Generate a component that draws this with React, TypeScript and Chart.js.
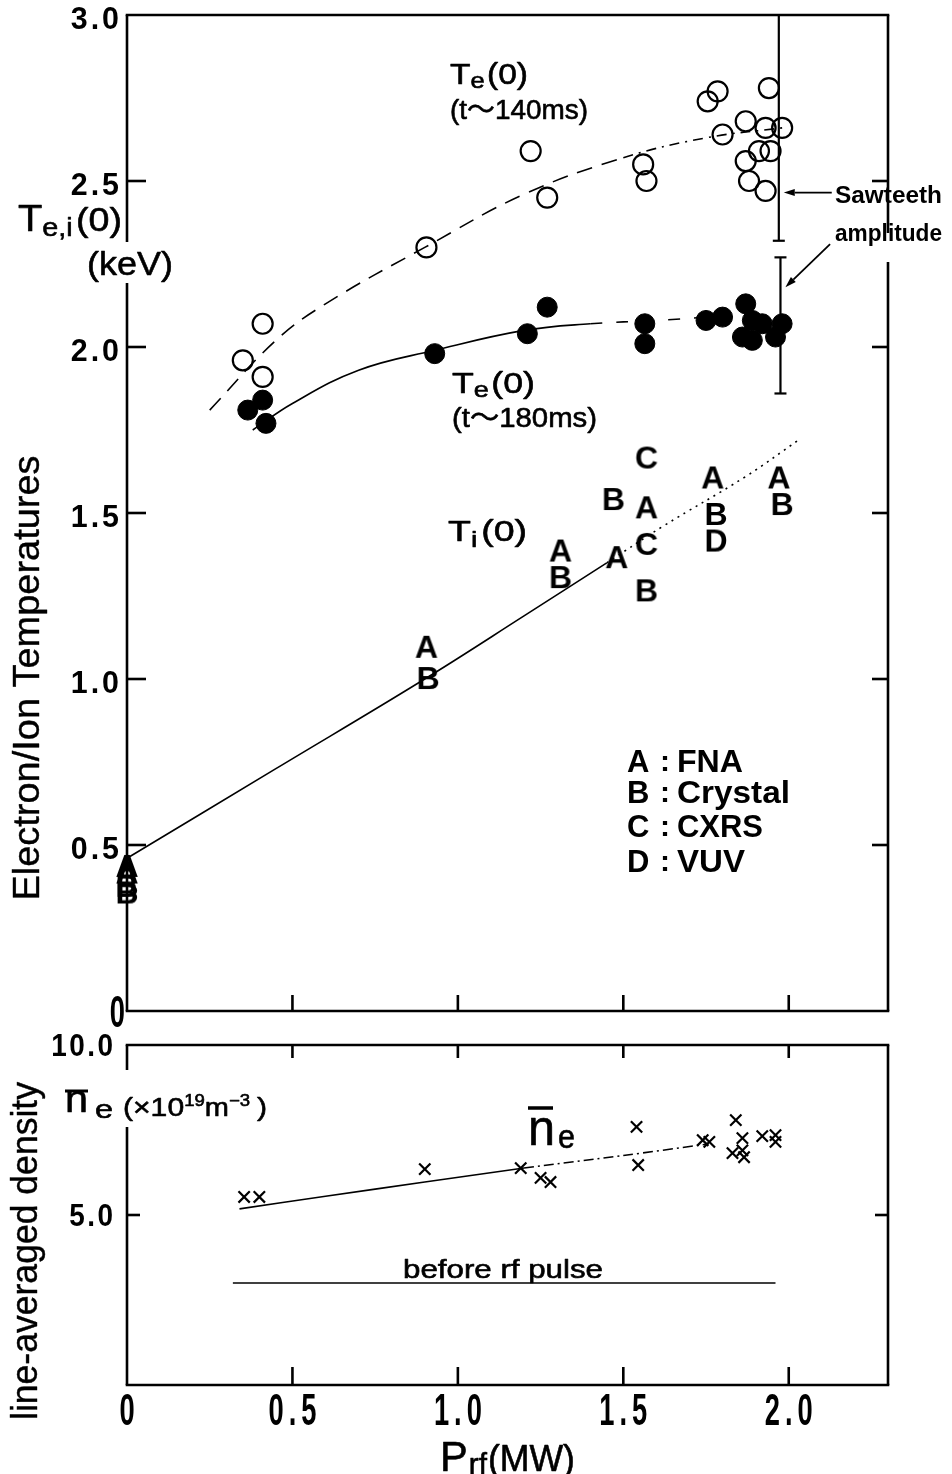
import React, { useEffect, useRef } from 'react';
import { Chart, registerables } from 'chart.js';
Chart.register(...registerables);

// ---------------- data ----------------
const xAxisMin = 0;
const xAxisMax = 2.3;
const xTickValues = [0, 0.5, 1.0, 1.5, 2.0];
const xTickLabels = ['0', '0.5', '1.0', '1.5', '2.0'];
const tempAxisMax = 3.0;
const tempTickValues = [0, 0.5, 1.0, 1.5, 2.0, 2.5, 3.0];
const tempTickLabels = ['0', '0.5', '1.0', '1.5', '2.0', '2.5', '3.0'];
const densAxisMax = 10;
const densTickValues = [5, 10];
const densTickLabels = ['5.0', '10.0'];

// Te(0) at t~140ms (open circles)
const te140P = [0.35, 0.41, 0.41, 0.905, 1.22, 1.27, 1.56, 1.57, 1.755, 1.785, 1.94, 1.87, 1.80, 1.93, 1.98, 1.91, 1.945, 1.87, 1.88, 1.93];
const te140T = [1.96, 2.07, 1.91, 2.30, 2.59, 2.45, 2.55, 2.50, 2.74, 2.77, 2.78, 2.68, 2.64, 2.66, 2.66, 2.59, 2.59, 2.56, 2.50, 2.47];
// Te(0) at t~180ms (filled circles)
const te180P = [0.365, 0.41, 0.42, 0.93, 1.21, 1.27, 1.565, 1.565, 1.75, 1.80, 1.87, 1.89, 1.86, 1.89, 1.92, 1.98, 1.96];
const te180T = [1.81, 1.84, 1.77, 1.98, 2.04, 2.12, 2.07, 2.01, 2.08, 2.09, 2.13, 2.08, 2.03, 2.02, 2.07, 2.07, 2.03];
// fitted curves
const te140FitP = [0.25, 0.45, 0.6, 0.9, 1.2, 1.5, 1.75, 1.98];
const te140FitT = [1.81, 2.02, 2.13, 2.30, 2.46, 2.57, 2.63, 2.66];
const te180FitP = [0.38, 0.5, 0.7, 0.93, 1.2, 1.4, 1.6, 1.75];
const te180FitT = [1.75, 1.83, 1.93, 1.99, 2.05, 2.07, 2.08, 2.09];
// Ti(0) by diagnostic
const tiAP = [0.0, 0.0, 0.905, 1.31, 1.48, 1.57, 1.77, 1.97];
const tiAT = [0.44, 0.42, 1.10, 1.39, 1.37, 1.52, 1.61, 1.61];
const tiBP = [0.0, 0.0, 0.91, 1.31, 1.47, 1.57, 1.78, 1.98];
const tiBT = [0.38, 0.36, 1.006, 1.31, 1.545, 1.27, 1.50, 1.53];
const tiCP = [1.57, 1.57];
const tiCT = [1.67, 1.41];
const tiDP = [1.78];
const tiDT = [1.42];
const tiFitP = [0.0, 0.45, 0.9, 1.2, 1.45, 1.62, 1.87, 2.03];
const tiFitT = [0.46, 0.73, 1.0, 1.19, 1.35, 1.46, 1.61, 1.72];
// sawteeth amplitude bars
const sawP = [1.97, 1.975];
const sawLow = [2.32, 1.86];
const sawHigh = [3.0, 2.27];
// line-averaged density
const densP = [0.354, 0.40, 0.90, 1.19, 1.25, 1.28, 1.54, 1.545, 1.74, 1.76, 1.84, 1.86, 1.83, 1.86, 1.865, 1.92, 1.96, 1.96];
const densN = [5.53, 5.53, 6.35, 6.38, 6.09, 5.97, 7.59, 6.47, 7.20, 7.15, 7.79, 7.26, 6.82, 6.90, 6.70, 7.32, 7.35, 7.15];
const densFitP = [0.34, 0.6, 0.9, 1.2, 1.5, 1.75];
const densFitN = [5.18, 5.55, 5.97, 6.38, 6.75, 7.08];
const beforeP = [0.32, 1.96];
const beforeN = [3.0, 3.0];

// ---------------- helpers ----------------
const FONT = '"Liberation Sans", Arial, Helvetica, "Noto Sans CJK JP", sans-serif';
const pts = (xs: number[], ys: number[]) => xs.map((x, i) => ({ x, y: ys[i] }));

type Run = { t: string; size: number; dy?: number; bold?: boolean; dx?: number };

function drawRuns(ctx: CanvasRenderingContext2D, runs: Run[], x: number, y: number, targetW?: number, align: 'left' | 'center' | 'right' = 'left', thick = 0.6) {
  ctx.save();
  ctx.fillStyle = '#000';
  ctx.strokeStyle = '#000';
  ctx.lineJoin = 'round';
  ctx.textBaseline = 'alphabetic';
  ctx.textAlign = 'left';
  let w = 0;
  const ws = runs.map((r) => {
    ctx.font = `${r.bold ? 'bold ' : ''}${r.size}px ${FONT}`;
    const m = ctx.measureText(r.t).width + (r.dx || 0);
    w += m;
    return m;
  });
  const sx = targetW ? targetW / w : 1;
  let x0 = x;
  if (align === 'center') x0 = x - (w * sx) / 2;
  else if (align === 'right') x0 = x - w * sx;
  ctx.translate(x0, y);
  ctx.scale(sx, 1);
  let cx = 0;
  runs.forEach((r, i) => {
    ctx.font = `${r.bold ? 'bold ' : ''}${r.size}px ${FONT}`;
    ctx.fillText(r.t, cx + (r.dx || 0), r.dy || 0);
    if (!r.bold && thick > 0) {
      ctx.lineWidth = thick;
      ctx.strokeText(r.t, cx + (r.dx || 0), r.dy || 0);
    }
    cx += ws[i];
  });
  ctx.restore();
}

function drawSpaced(ctx: CanvasRenderingContext2D, s: string, x: number, y: number, size: number, sx: number, gap: number, align: 'left' | 'center' | 'right') {
  ctx.save();
  ctx.font = `bold ${size}px ${FONT}`;
  ctx.fillStyle = '#000';
  ctx.textAlign = 'left';
  ctx.textBaseline = 'alphabetic';
  const chars = [...s];
  const ws = chars.map((c) => ctx.measureText(c).width * sx);
  const total = ws.reduce((a, b) => a + b, 0) + gap * (chars.length - 1);
  let cx = align === 'right' ? x - total : align === 'center' ? x - total / 2 : x;
  chars.forEach((c, i) => {
    ctx.save();
    ctx.translate(cx, y);
    ctx.scale(sx, 1);
    ctx.fillText(c, 0, 0);
    ctx.restore();
    cx += ws[i] + gap;
  });
  ctx.restore();
}

function seg(ctx: CanvasRenderingContext2D, x1: number, y1: number, x2: number, y2: number) {
  ctx.beginPath();
  ctx.moveTo(x1, y1);
  ctx.lineTo(x2, y2);
  ctx.stroke();
}

function arrow(ctx: CanvasRenderingContext2D, x1: number, y1: number, x2: number, y2: number) {
  const ang = Math.atan2(y2 - y1, x2 - x1);
  const L = 11, W = 3.5;
  const bx = x2 - L * Math.cos(ang), by = y2 - L * Math.sin(ang);
  seg(ctx, x1, y1, bx, by);
  ctx.beginPath();
  ctx.moveTo(x2, y2);
  ctx.lineTo(bx + W * Math.sin(ang), by - W * Math.cos(ang));
  ctx.lineTo(bx - W * Math.sin(ang), by + W * Math.cos(ang));
  ctx.closePath();
  ctx.fill();
}

function rotatedTitle(ctx: CanvasRenderingContext2D, text: string, bx: number, cy: number, size: number, targetW: number) {
  ctx.save();
  ctx.translate(bx, cy);
  ctx.rotate(-Math.PI / 2);
  drawRuns(ctx, [{ t: text, size }], 0, 0, targetW, 'center', 0.4);
  ctx.restore();
}

function letterCanvas(ch: string) {
  const c = document.createElement('canvas');
  c.width = 36;
  c.height = 36;
  const g = c.getContext('2d')!;
  g.font = `bold 32px ${FONT}`;
  g.textAlign = 'center';
  g.textBaseline = 'alphabetic';
  g.fillStyle = '#000';
  g.fillText(ch, 18, 29.5);
  return c;
}

// ---------------- plugins ----------------
const topDecor = {
  id: 'topDecor',
  afterDraw(chart: any) {
    const { ctx, chartArea: a, scales } = chart;
    const x = scales.x, y = scales.y;
    ctx.save();
    ctx.strokeStyle = '#000';
    ctx.fillStyle = '#000';
    ctx.lineWidth = 2.6;
    // frame (with gaps for labels)
    seg(ctx, a.left - 1.3, a.top, a.right + 1.3, a.top);
    seg(ctx, a.left - 1.3, a.bottom, a.right + 1.3, a.bottom);
    seg(ctx, a.left, a.top, a.left, 242);
    seg(ctx, a.left, 283, a.left, a.bottom);
    seg(ctx, a.right, a.top, a.right, 233);
    seg(ctx, a.right, 262, a.right, a.bottom);
    // inward ticks
    tempTickValues.forEach((v) => {
      if (v <= 0 || v >= tempAxisMax) return;
      const py = y.getPixelForValue(v);
      seg(ctx, a.left, py, a.left + 19, py);
      seg(ctx, a.right, py, a.right - 16, py);
    });
    xTickValues.forEach((v) => {
      if (v <= 0) return;
      const px = x.getPixelForValue(v);
      seg(ctx, px, a.bottom, px, a.bottom - 16);
    });
    // tick labels
    tempTickValues.forEach((v, i) => {
      const py = y.getPixelForValue(v);
      if (v === 0) drawSpaced(ctx, tempTickLabels[i], 125, py + 16, 44, 0.62, 0, 'right');
      else drawSpaced(ctx, tempTickLabels[i], 119, py + 14, 32, 0.95, 3, 'right');
    });
    // sawteeth amplitude bars
    ctx.lineWidth = 2.2;
    sawP.forEach((p, i) => {
      const px = x.getPixelForValue(p);
      const yTop = y.getPixelForValue(Math.min(sawHigh[i], tempAxisMax));
      const yBot = y.getPixelForValue(sawLow[i]);
      seg(ctx, px, yTop, px, yBot);
      seg(ctx, px - 6, yBot, px + 6, yBot);
      if (sawHigh[i] < tempAxisMax) seg(ctx, px - 6, yTop, px + 6, yTop);
    });
    ctx.lineWidth = 1.8;
    arrow(ctx, x.getPixelForValue(2.13), y.getPixelForValue(2.465), x.getPixelForValue(1.985), y.getPixelForValue(2.465));
    arrow(ctx, x.getPixelForValue(2.125), y.getPixelForValue(2.31), x.getPixelForValue(1.99), y.getPixelForValue(2.18));
    // annotations
    drawRuns(ctx, [{ t: 'T', size: 29 }, { t: 'e', size: 22, dy: 4 }, { t: '(0)', size: 29, dx: 2 }], 450, 84, 78);
    drawRuns(ctx, [{ t: '(t〜140ms)', size: 27 }], 450, 119, 138);
    drawRuns(ctx, [{ t: 'T', size: 29 }, { t: 'e', size: 22, dy: 4 }, { t: '(0)', size: 29, dx: 2 }], 452, 393, 83);
    drawRuns(ctx, [{ t: '(t〜180ms)', size: 27 }], 452, 427, 145);
    drawRuns(ctx, [{ t: 'T', size: 29 }, { t: 'i', size: 22, dy: 6 }, { t: '(0)', size: 29, dx: 3 }], 448, 541, 79);
    drawRuns(ctx, [{ t: 'Sawteeth', size: 24, bold: true }], 835, 203, 107);
    drawRuns(ctx, [{ t: 'amplitude', size: 23, bold: true }], 835, 241, 107);
    // legend for letters
    const leg = [
      ['A', 'FNA', 772, 66],
      ['B', 'Crystal', 803, 113],
      ['C', 'CXRS', 837, 86],
      ['D', 'VUV', 872, 68],
    ] as [string, string, number, number][];
    leg.forEach(([k, name, by, tw]) => {
      drawRuns(ctx, [{ t: k, size: 31, bold: true }], 627, by);
      drawRuns(ctx, [{ t: ':', size: 30, bold: true }], 665, by - 1, undefined, 'center');
      drawRuns(ctx, [{ t: name, size: 31, bold: true }], 677, by, tw);
    });
    // axis titles
    drawRuns(ctx, [{ t: 'T', size: 36 }, { t: 'e,i', size: 26, dy: 5 }, { t: '(0)', size: 34, dx: 3 }], 18, 231, 104);
    drawRuns(ctx, [{ t: '(keV)', size: 34 }], 87, 275, 86);
    rotatedTitle(ctx, 'Electron/Ion Temperatures', 39, 678, 37, 445);
    ctx.restore();
  },
};

const botDecor = {
  id: 'botDecor',
  afterDraw(chart: any) {
    const { ctx, chartArea: a, scales } = chart;
    const x = scales.x, y = scales.y;
    ctx.save();
    ctx.strokeStyle = '#000';
    ctx.fillStyle = '#000';
    ctx.lineWidth = 2.6;
    seg(ctx, a.left - 1.3, a.top, a.right + 1.3, a.top);
    seg(ctx, a.left - 1.3, a.bottom, a.right + 1.3, a.bottom);
    seg(ctx, a.left, a.top, a.left, a.top + 25);
    seg(ctx, a.left, a.top + 82, a.left, a.bottom);
    seg(ctx, a.right, a.top, a.right, a.bottom);
    xTickValues.forEach((v) => {
      if (v <= 0) return;
      const px = x.getPixelForValue(v);
      seg(ctx, px, a.bottom, px, a.bottom - 18);
      seg(ctx, px, a.top, px, a.top + 13);
    });
    densTickValues.forEach((v) => {
      if (v >= densAxisMax) return;
      const py = y.getPixelForValue(v);
      seg(ctx, a.left, py, a.left + 13, py);
      seg(ctx, a.right, py, a.right - 13, py);
    });
    // tick labels
    densTickValues.forEach((v, i) => {
      const py = y.getPixelForValue(v);
      drawSpaced(ctx, densTickLabels[i], 113, py + 11, 31, 0.9, 2.5, 'right');
    });
    xTickValues.forEach((v, i) => {
      const px = x.getPixelForValue(v);
      drawSpaced(ctx, xTickLabels[i], px, a.bottom + 40, 44, 0.62, 5, 'center');
    });
    // axis label block at left
    const off = -1030;
    drawRuns(ctx, [{ t: 'n', size: 38 }], 65, 1112 + off, 23);
    ctx.lineWidth = 3;
    seg(ctx, 65, 1091 + off, 88, 1091 + off);
    drawRuns(ctx, [{ t: 'e', size: 26 }], 95, 1118 + off, 18);
    drawRuns(ctx, [
      { t: '(×10', size: 26 },
      { t: '19', size: 16, dy: -10 },
      { t: 'm', size: 25 },
      { t: '−3', size: 16, dy: -10 },
      { t: ')', size: 26, dx: 6 },
    ], 123, 1116 + off, 144);
    // in-plot n_e label
    drawRuns(ctx, [{ t: 'n', size: 50 }], 528, 1145 + off, 27);
    ctx.lineWidth = 3.5;
    seg(ctx, 528, 1108 + off, 553, 1108 + off);
    drawRuns(ctx, [{ t: 'e', size: 34 }], 558, 1148 + off, 17);
    drawRuns(ctx, [{ t: 'before rf pulse', size: 26 }], 403, 1278 + off, 200);
    // x title
    drawRuns(ctx, [{ t: 'P', size: 42 }, { t: 'rf', size: 30, dy: 3, dx: 1 }, { t: '(MW)', size: 36, dx: 1 }], 440, 1471 + off, 135);
    rotatedTitle(ctx, 'line-averaged density', 37, 1251 + off, 36, 338);
    ctx.restore();
  },
};

// ---------------- chart configs ----------------
const commonScaleX = (h: number) => ({
  type: 'linear' as const,
  min: xAxisMin,
  max: xAxisMax,
  grid: { display: false },
  border: { display: false },
  ticks: { display: false },
  afterFit: (s: any) => { s.height = h; },
});

function topConfig(): any {
  const line = (xs: number[], ys: number[], dash: number[], dashAfter: number, dash2: number[] | undefined, width = 1.6) => ({
    data: pts(xs, ys),
    showLine: true,
    borderColor: '#000',
    borderWidth: width,
    borderDash: dash,
    pointRadius: 0,
    pointHoverRadius: 0,
    tension: 0.4,
    fill: false,
    segment: {
      borderDash: (c: any) => (c.p0.parsed.x >= dashAfter ? dash2 : undefined),
    },
  });
  const letters = (xs: number[], ys: number[], ch: string) => ({
    data: pts(xs, ys),
    pointStyle: letterCanvas(ch),
    pointRadius: 12,
    pointHoverRadius: 12,
    clip: false,
  });
  return {
    type: 'scatter',
    data: {
      datasets: [
        { data: pts(te140P, te140T), pointStyle: 'circle', pointRadius: 10, pointHoverRadius: 10, borderColor: '#000', borderWidth: 2.2, backgroundColor: 'rgba(0,0,0,0)' },
        { data: pts(te180P, te180T), pointStyle: 'circle', pointRadius: 10, pointHoverRadius: 10, borderColor: '#000', borderWidth: 1, backgroundColor: '#000' },
        letters(tiAP, tiAT, 'A'),
        letters(tiBP, tiBT, 'B'),
        letters(tiCP, tiCT, 'C'),
        letters(tiDP, tiDT, 'D'),
        line(te140FitP, te140FitT, [16, 10], 1.3, [10, 6, 2, 6]),
        line(te180FitP, te180FitT, [], 1.3, [12, 14]),
        line(tiFitP, tiFitT, [], 1.45, [2, 5]),
      ],
    },
    options: {
      animation: false,
      responsive: true,
      maintainAspectRatio: false,
      events: [],
      layout: { padding: { top: 15, right: 64, left: 0, bottom: 0 } },
      plugins: { legend: { display: false }, tooltip: { enabled: false }, title: { display: false } },
      scales: {
        x: commonScaleX(19),
        y: {
          type: 'linear',
          min: 0,
          max: tempAxisMax,
          grid: { display: false },
          border: { display: false },
          ticks: { display: false },
          afterFit: (s: any) => { s.width = 127; },
        },
      },
    },
    plugins: [topDecor],
  };
}

function botConfig(): any {
  return {
    type: 'scatter',
    data: {
      datasets: [
        { data: pts(densP, densN), pointStyle: 'crossRot', pointRadius: 8, pointHoverRadius: 8, borderColor: '#000', borderWidth: 2.2 },
        {
          data: pts(densFitP, densFitN),
          showLine: true,
          borderColor: '#000',
          borderWidth: 1.6,
          pointRadius: 0,
          pointHoverRadius: 0,
          tension: 0.3,
          segment: { borderDash: (c: any) => (c.p0.parsed.x >= 1.2 ? [10, 4, 2, 4] : undefined) },
        },
        { data: pts(beforeP, beforeN), showLine: true, borderColor: '#000', borderWidth: 1.6, pointRadius: 0, pointHoverRadius: 0 },
      ],
    },
    options: {
      animation: false,
      responsive: true,
      maintainAspectRatio: false,
      events: [],
      layout: { padding: { top: 15, right: 64, left: 0, bottom: 0 } },
      plugins: { legend: { display: false }, tooltip: { enabled: false }, title: { display: false } },
      scales: {
        x: commonScaleX(89),
        y: {
          type: 'linear',
          min: 0,
          max: densAxisMax,
          grid: { display: false },
          border: { display: false },
          ticks: { display: false },
          afterFit: (s: any) => { s.width = 127; },
        },
      },
    },
    plugins: [botDecor],
  };
}

export default function App() {
  const topRef = useRef<HTMLCanvasElement>(null);
  const botRef = useRef<HTMLCanvasElement>(null);
  useEffect(() => {
    const top = new Chart(topRef.current!, topConfig());
    const bot = new Chart(botRef.current!, botConfig());
    return () => {
      top.destroy();
      bot.destroy();
    };
  }, []);
  return (
    <div style={{ position: 'absolute', left: 0, top: 0, width: 952, height: 1474, background: '#fff' }}>
      <div style={{ position: 'absolute', left: 0, top: 0, width: 952, height: 1030 }}>
        <canvas ref={topRef} />
      </div>
      <div style={{ position: 'absolute', left: 0, top: 1030, width: 952, height: 444 }}>
        <canvas ref={botRef} />
      </div>
    </div>
  );
}
